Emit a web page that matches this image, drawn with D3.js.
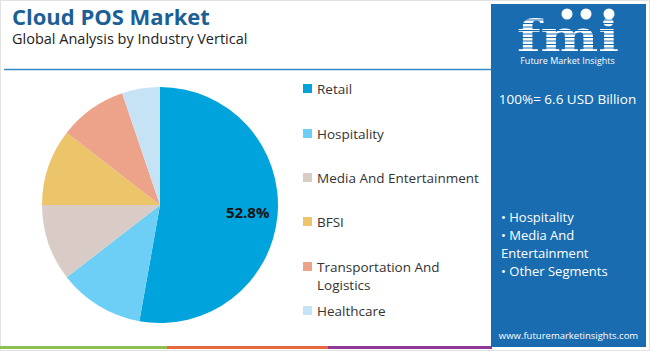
<!DOCTYPE html>
<html>
<head>
<meta charset="utf-8">
<script src="https://cdn.jsdelivr.net/npm/d3@7"></script>
<style>
  body { margin: 0; background: #fff; }
  svg text { font-family: "Open Sans", "Noto Sans", sans-serif; }
</style>
</head>
<body>
<div id="chart"></div>
<script>
// data
const segments = ["Retail", "Hospitality", "Media And Entertainment", "BFSI", "Transportation And Logistics", "Healthcare"];
const shares = [52.8, 11.7, 10.5, 10.5, 9.3, 5.2];
const colors = ["#00a3dc", "#6dcff6", "#d9ccc7", "#ecc56b", "#eca389", "#c5e3f5"];
const legendLines = [["Retail"], ["Hospitality"], ["Media And Entertainment"], ["BFSI"], ["Transportation And", "Logistics"], ["Healthcare"]];
const panelBullets = ["• Hospitality", "• Media And", "Entertainment", "• Other Segments"];
const totalText = "100%= 6.6 USD Billion";

const width = 650, height = 351;
const svg = d3.select("#chart").append("svg")
    .attr("width", width).attr("height", height);

// frame
svg.append("rect").attr("x", 0.5).attr("y", 0.5).attr("width", width - 1).attr("height", height - 1)
    .attr("fill", "#fff").attr("stroke", "#e2e2e2");

// title
svg.append("text").text("Cloud POS Market")
    .attr("x", 12).attr("y", 25)
    .style("font-size", "22px").style("font-weight", "bold").attr("fill", "#1b5f96");
svg.append("text").text("Global Analysis by Industry Vertical")
    .attr("x", 12).attr("y", 44)
    .style("font-size", "14.5px").attr("fill", "#222");

svg.append("line").attr("x1", 4).attr("x2", 492).attr("y1", 69.5).attr("y2", 69.5)
    .attr("stroke", "#3a86c0").attr("stroke-width", 1.5);

// bottom stripe
const stripe = [["#8cc152", 0, 167], ["#e8673c", 167, 328], ["#8e3b97", 328, 492]];
svg.selectAll(".stripe").data(stripe).enter().append("rect")
    .attr("x", d => d[1]).attr("width", d => d[2] - d[1])
    .attr("y", 346).attr("height", 3).attr("fill", d => d[0]);

// pie
const cx = 160, cy = 205, r = 118;
const pie = d3.pie().sort(null).value(d => d)(shares);
const arc = d3.arc().innerRadius(0).outerRadius(r);
const labelArc = d3.arc().innerRadius(88).outerRadius(88);
const g = svg.append("g").attr("transform", "translate(" + cx + "," + cy + ")");
g.selectAll("path").data(pie).enter().append("path")
    .attr("d", arc).attr("fill", (d, i) => colors[i]);
g.append("text").datum(pie[0])
    .attr("transform", d => "translate(" + labelArc.centroid(d) + ")")
    .attr("text-anchor", "middle").attr("dy", "0.35em")
    .style("font-size", "15px").style("font-weight", "bold").attr("fill", "#111")
    .text(d => d.data.toFixed(1) + "%");

// legend
const legendY = [89, 134, 178, 222, 267, 311];
const legend = svg.selectAll(".legend_item").data(segments).enter().append("g")
    .attr("class", "legend_item")
    .attr("transform", (d, i) => "translate(303," + legendY[i] + ")");
legend.append("rect").attr("x", 0).attr("y", -5).attr("width", 9).attr("height", 9)
    .attr("fill", (d, i) => colors[i]);
legend.append("text").attr("x", 14).attr("y", 0)
    .style("font-size", "13.5px").attr("fill", "#333")
    .each(function(d, i) {
        d3.select(this).selectAll("tspan").data(legendLines[i]).enter().append("tspan")
            .attr("x", 14).attr("dy", (l, j) => j === 0 ? "0.4em" : 18).text(l => l);
    });

// right panel
const px = 491, pw = 155;
svg.append("rect").attr("x", px).attr("y", 4).attr("width", pw).attr("height", 343).attr("fill", "#1a6cb0");

// logo (rough)
const logo = svg.append("g");
logo.append("text").text("fmi")
    .attr("x", px + 26).attr("y", 52)
    .attr("textLength", 102).attr("lengthAdjust", "spacingAndGlyphs")
    .style("font-family", "'DejaVu Serif', serif").style("font-size", "44px").style("font-weight", "bold")
    .attr("fill", "#fff");
for (let y = 20; y < 53; y += 3.5) {
    logo.append("line").attr("x1", px + 20).attr("x2", px + 135).attr("y1", y).attr("y2", y)
        .attr("stroke", "#1a6cb0").attr("stroke-width", 1);
}
[[567, 14], [586, 14], [609, 14]].forEach(c => {
    logo.append("circle").attr("cx", c[0]).attr("cy", c[1]).attr("r", 5.5).attr("fill", "#fff");
});
logo.append("text").text("Future Market Insights")
    .attr("x", px + pw / 2 - 1).attr("y", 64).attr("text-anchor", "middle")
    .style("font-size", "9px").attr("fill", "#fff");

svg.append("text").text(totalText)
    .attr("x", px + pw / 2 - 1).attr("y", 104).attr("text-anchor", "middle")
    .style("font-size", "13.5px").attr("fill", "#fff");

svg.append("g").selectAll("text").data(panelBullets).enter().append("text")
    .attr("x", 501).attr("y", (d, i) => 222 + i * 18)
    .style("font-size", "13px").attr("fill", "#fff")
    .text(d => d);

svg.append("text").text("www.futuremarketinsights.com")
    .attr("x", px + pw / 2).attr("y", 339).attr("text-anchor", "middle")
    .style("font-size", "9.5px").attr("fill", "#fff");
</script>
</body>
</html>
